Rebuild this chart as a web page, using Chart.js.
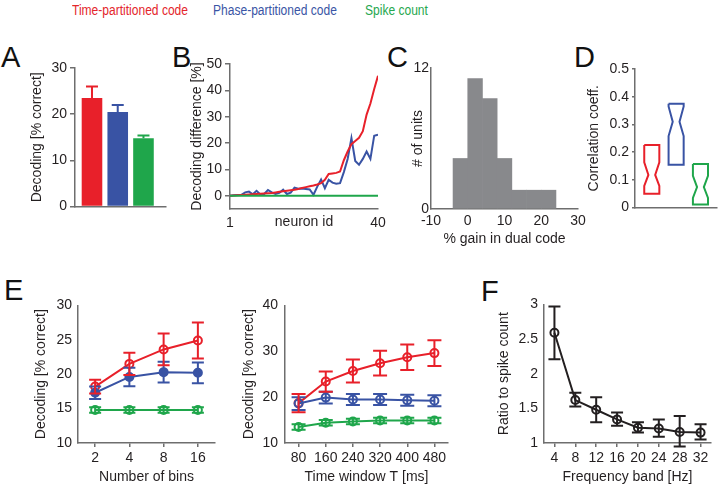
<!DOCTYPE html>
<html>
<head>
<meta charset="utf-8">
<script src="https://cdn.jsdelivr.net/npm/chart.js@4.4.1/dist/chart.umd.min.js"></script>
<style>
  body { margin: 0; background: #fff; width: 721px; height: 489px; position: relative; overflow: hidden;
         font-family: "Liberation Sans", Arial, sans-serif; }
  canvas { position: absolute; }
  .letter { position: absolute; font-size: 29px; line-height: 1; color: #111; }
  .leg { position: absolute; top: 3px; font-size: 14px; line-height: 1; white-space: nowrap;
         transform-origin: left top; transform: scaleX(0.86); }
</style>
</head>
<body>
<div class="leg" style="left:72px;color:#e4262c">Time-partitioned code</div>
<div class="leg" style="left:213px;color:#3a55a5">Phase-partitioned code</div>
<div class="leg" style="left:365px;color:#27a84f">Spike count</div>
<div class="letter" style="left:1px;top:43px">A</div>
<div class="letter" style="left:172px;top:43px">B</div>
<div class="letter" style="left:387px;top:43px">C</div>
<div class="letter" style="left:574px;top:43px">D</div>
<div class="letter" style="left:4px;top:276px">E</div>
<div class="letter" style="left:481px;top:277px">F</div>
<script>
// colours for the three codes
const RED = '#e8202a', BLUE = '#3953a4', GREEN = '#1fa64b';
const AXIS = '#6e6e6e', INK = '#231f20';

// A: overall decoding
const codeNames = ['Time-partitioned', 'Phase-partitioned', 'Spike count'];
const decodingMean = [23.5, 20.5, 14.8];
const decodingErr = [2.5, 1.5, 0.6];

// B: per-neuron decoding difference
const neuronIds = [1,2,3,4,5,6,7,8,9,10,11,12,13,14,15,16,17,18,19,20,
                   21,22,23,24,25,26,27,28,29,30,31,32,33,34,35,36,37,38,39,40];
const diffTime = [0,0.1,0.2,0.3,0.4,0.5,0.6,0.7,0.8,0.9,1.0,1.1,1.3,1.5,1.7,1.9,2.1,2.3,2.6,3.0,
                  3.3,3.6,3.9,4.3,4.8,6.1,8.3,8.5,8.7,9.2,13.5,16.8,19.6,20.8,22.0,24.5,30.8,35.0,40.5,45.5];
const diffPhase = [0,0.2,0.3,0.4,1.3,1.6,0.6,1.9,0.5,0.7,2.2,1.3,0.7,1.1,2.3,0.7,1.2,3.1,2.7,2.8,
                   2.6,2.4,0.4,3.5,6.2,2.9,6.1,5.0,4.6,4.8,9.0,14.0,21.9,13.2,11.8,14.0,16.8,14.0,22.8,23.2];
const diffCount = [0,0,0,0,0,0,0,0,0,0,0,0,0,0,0,0,0,0,0,0,
                   0,0,0,0,0,0,0,0,0,0,0,0,0,0,0,0,0,0,0,0];
const diffTicks = [0, 10, 20, 30, 40, 50];

// C: histogram of gain
const gainBinCenters = [-2, 2, 6, 10, 14, 18, 22];
const unitCounts = [4.3, 11.1, 9.4, 4.3, 1.6, 1.6, 1.6];

// D: notched boxes of correlation coefficient
const corrQ1 = [0.05, 0.155, 0.011];
const corrNotchLo = [0.078, 0.258, 0.035];
const corrMedian = [0.118, 0.31, 0.074];
const corrNotchHi = [0.163, 0.365, 0.115];
const corrQ3 = [0.226, 0.375, 0.157];

// E left: number of bins
const binLabels = ['2', '4', '8', '16'];
const binsTime = [18.2, 21.5, 23.6, 24.9];
const binsTimeErr = [1.0, 1.6, 2.3, 2.6];
const binsPhase = [17.3, 19.6, 20.3, 20.2];
const binsPhaseErr = [0.9, 1.35, 1.5, 1.5];
const binsCount = [14.8, 14.8, 14.8, 14.8];
const binsCountErr = [0.4, 0.4, 0.4, 0.4];

// E right: time window
const windowLabels = ['80', '160', '240', '320', '400', '480'];
const winTime = [18.7, 23.4, 25.7, 27.4, 28.7, 29.6];
const winTimeErr = [2.0, 2.2, 2.5, 2.7, 2.8, 2.8];
const winPhase = [18.6, 19.9, 19.5, 19.5, 19.3, 19.2];
const winPhaseErr = [1.4, 1.3, 1.2, 1.2, 1.2, 1.2];
const winCount = [13.5, 14.4, 14.7, 14.9, 14.9, 14.9];
const winCountErr = [0.6, 0.6, 0.6, 0.6, 0.6, 0.6];

// F: frequency band
const bandLabels = ['4', '8', '12', '16', '20', '24', '28', '32'];
const ratioMean = [2.59, 1.62, 1.48, 1.34, 1.22, 1.21, 1.16, 1.15];
const ratioHi = [2.97, 1.725, 1.66, 1.44, 1.30, 1.34, 1.39, 1.27];
const ratioLo = [2.21, 1.525, 1.30, 1.25, 1.15, 1.09, 0.95, 1.05];

Chart.defaults.font.family = '"Liberation Sans", Arial, sans-serif';
Chart.defaults.font.size = 14;
Chart.defaults.color = INK;
Chart.defaults.animation = false;
Chart.defaults.plugins.legend.display = false;
Chart.defaults.plugins.tooltip.enabled = false;

// vertical error bars read from dataset.errHi / errLo through the y scale
const errorBars = {
  id: 'errorBars',
  afterDatasetsDraw(chart, args, opts) {
    const ctx = chart.ctx, y = chart.scales.y;
    chart.data.datasets.forEach((ds, i) => {
      if (!ds.errHi) return;
      const meta = chart.getDatasetMeta(i);
      ctx.save();
      ctx.lineWidth = 2;
      meta.data.forEach((el, j) => {
        ctx.strokeStyle = ds.errColor ? ds.errColor[j] : ds.borderColor;
        const top = y.getPixelForValue(ds.errHi[j]);
        const bot = ds.errLo ? y.getPixelForValue(ds.errLo[j]) : el.y;
        ctx.beginPath();
        ctx.moveTo(el.x, bot); ctx.lineTo(el.x, top);
        ctx.moveTo(el.x - opts.cap, top); ctx.lineTo(el.x + opts.cap, top);
        if (ds.errLo) { ctx.moveTo(el.x - opts.cap, bot); ctx.lineTo(el.x + opts.cap, bot); }
        ctx.stroke();
      });
      ctx.restore();
    });
  }
};

function axis(o) {
  const s = {
    type: o.type || 'linear',
    offset: !!o.offset,
    border: { color: AXIS, width: 1.5 },
    grid: { drawOnChartArea: false, drawTicks: !!o.marks, tickLength: o.marks || 0, color: AXIS, lineWidth: 1.5 },
    ticks: { padding: o.pad == null ? 3 : o.pad, autoSkip: false, maxRotation: 0, display: o.labels !== false },
    title: { display: !!o.title, text: o.title || '', padding: { top: 4, bottom: 4 } }
  };
  if (s.type === 'linear') s.ticks.callback = v => String(v);
  if (o.min != null) s.min = o.min;
  if (o.max != null) s.max = o.max;
  if (o.tickValues) s.afterBuildTicks = sc => { sc.ticks = o.tickValues.map(v => ({ value: v })); };
  return s;
}

// place one chart so that its plot area lands on [left, top, right, bottom]
function panel(area, yW, xH, config) {
  const padT = 12, padR = 14;
  const cv = document.createElement('canvas');
  const w = area[2] - area[0] + yW + padR, h = area[3] - area[1] + padT + xH;
  cv.width = w; cv.height = h;
  cv.style.left = (area[0] - yW) + 'px';
  cv.style.top = (area[1] - padT) + 'px';
  cv.style.width = w + 'px'; cv.style.height = h + 'px';
  document.body.appendChild(cv);
  const o = config.options;
  o.responsive = false;
  o.layout = { padding: { top: padT, right: padR, left: 0, bottom: 0 } };
  o.scales.y.afterFit = s => { s.width = yW; };
  o.scales.x.afterFit = s => { s.height = xH; };
  return new Chart(cv, config);
}

function series(values, errs, color, fill) {
  return {
    data: values,
    borderColor: color, borderWidth: 2,
    pointRadius: 4, pointBorderWidth: 2, pointBorderColor: color,
    pointBackgroundColor: fill || 'rgba(0,0,0,0)',
    errHi: values.map((v, i) => v + errs[i]),
    errLo: values.map((v, i) => v - errs[i]),
    tension: 0
  };
}

// A
panel([75, 68, 166, 208], 50, 10, {
  type: 'bar',
  data: {
    datasets: [{
      data: decodingMean.map((v, i) => ({ x: i + 1, y: v })),
      backgroundColor: [RED, BLUE, GREEN],
      errColor: [RED, BLUE, GREEN],
      errHi: decodingMean.map((v, i) => v + decodingErr[i]),
      barPercentage: 0.8, categoryPercentage: 1
    }]
  },
  options: {
    plugins: { errorBars: { cap: 6 } },
    scales: {
      x: axis({ min: 0.34, max: 3.875, labels: false }),
      y: axis({ min: 0, max: 30, marks: 5, tickValues: [0, 10, 20, 30], title: 'Decoding [% correct]' })
    }
  },
  plugins: [errorBars]
});

// B
function lineOf(values, color) {
  return { data: values.map((v, i) => ({ x: neuronIds[i], y: v })), borderColor: color,
           borderWidth: 2, pointRadius: 0, showLine: true, tension: 0 };
}
panel([230, 64, 378, 209], 45, 26, {
  type: 'scatter',
  data: { datasets: [lineOf(diffCount, GREEN), lineOf(diffTime, RED), lineOf(diffPhase, BLUE)] },
  options: {
    scales: {
      x: axis({ min: 1, max: 40, pad: 6, tickValues: [1, 40], title: 'neuron id' }),
      y: axis({ min: -5, max: 50, marks: 5, tickValues: diffTicks, title: 'Decoding difference [%]' })
    }
  }
});

// C
panel([431, 68, 578, 209], 25, 43, {
  type: 'bar',
  data: {
    datasets: [{
      data: gainBinCenters.map((c, i) => ({ x: c, y: unitCounts[i] })),
      backgroundColor: '#88898c', barPercentage: 1, categoryPercentage: 1
    }]
  },
  options: {
    scales: {
      x: axis({ min: -10, max: 30, pad: 4, tickValues: [-10, 0, 10, 20, 30], title: '% gain in dual code' }),
      y: axis({ min: 0, max: 12, pad: 2, tickValues: [0, 12], title: '# of units' })
    }
  }
});

// D
const boxHalf = 0.31;
function notchOutline(i) {
  const c = i + 1, w = boxHalf, n = boxHalf * 0.45;
  return [
    { x: c - w, y: corrQ3[i] }, { x: c + w, y: corrQ3[i] },
    { x: c + w, y: corrNotchHi[i] }, { x: c + n, y: corrMedian[i] },
    { x: c + w, y: corrNotchLo[i] }, { x: c + w, y: corrQ1[i] },
    { x: c - w, y: corrQ1[i] }, { x: c - w, y: corrNotchLo[i] },
    { x: c - n, y: corrMedian[i] }, { x: c - w, y: corrNotchHi[i] },
    { x: c - w, y: corrQ3[i] }
  ];
}
panel([635, 69, 717, 209], 53, 10, {
  type: 'scatter',
  data: {
    datasets: [RED, BLUE, GREEN].map((col, i) => ({
      data: notchOutline(i), borderColor: col, borderWidth: 2, pointRadius: 0,
      showLine: true, tension: 0, borderJoinStyle: 'miter'
    }))
  },
  options: {
    scales: {
      x: axis({ min: 0.31, max: 3.68, labels: false }),
      y: axis({ min: 0, max: 0.5, marks: 3, tickValues: [0, 0.1, 0.2, 0.3, 0.4, 0.5], title: 'Correlation coeff.' })
    }
  }
});

// E left
panel([78, 303, 215, 443], 49, 47, {
  type: 'line',
  data: {
    labels: binLabels,
    datasets: [
      series(binsCount, binsCountErr, GREEN),
      series(binsPhase, binsPhaseErr, BLUE, BLUE),
      series(binsTime, binsTimeErr, RED)
    ]
  },
  options: {
    plugins: { errorBars: { cap: 6 } },
    scales: {
      x: axis({ type: 'category', offset: true, marks: 4, pad: 3, title: 'Number of bins' }),
      y: axis({ min: 10, max: 30, pad: 6, tickValues: [10, 15, 20, 25, 30], title: 'Decoding [% correct]' })
    }
  },
  plugins: [errorBars]
});

// E right
panel([285, 302, 448, 443], 48, 47, {
  type: 'line',
  data: {
    labels: windowLabels,
    datasets: [
      series(winCount, winCountErr, GREEN),
      series(winPhase, winPhaseErr, BLUE),
      series(winTime, winTimeErr, RED)
    ]
  },
  options: {
    plugins: { errorBars: { cap: 7 } },
    scales: {
      x: axis({ type: 'category', offset: true, marks: 4, pad: 3, title: 'Time window T [ms]' }),
      y: axis({ min: 10, max: 40, pad: 7, tickValues: [10, 20, 30, 40], title: 'Decoding [% correct]' })
    }
  },
  plugins: [errorBars]
});

// F
panel([544, 302, 711, 443], 52, 47, {
  type: 'line',
  data: {
    labels: bandLabels,
    datasets: [{
      data: ratioMean, borderColor: INK, borderWidth: 2, tension: 0,
      pointRadius: 4, pointBorderWidth: 2, pointBorderColor: INK, pointBackgroundColor: 'rgba(0,0,0,0)',
      errHi: ratioHi, errLo: ratioLo
    }]
  },
  options: {
    plugins: { errorBars: { cap: 6 } },
    scales: {
      x: axis({ type: 'category', offset: true, marks: 4, pad: 3, title: 'Frequency band [Hz]' }),
      y: axis({ min: 1, max: 3, pad: 6, tickValues: [1, 1.5, 2, 2.5, 3], title: 'Ratio to spike count' })
    }
  },
  plugins: [errorBars]
});
</script>
</body>
</html>
